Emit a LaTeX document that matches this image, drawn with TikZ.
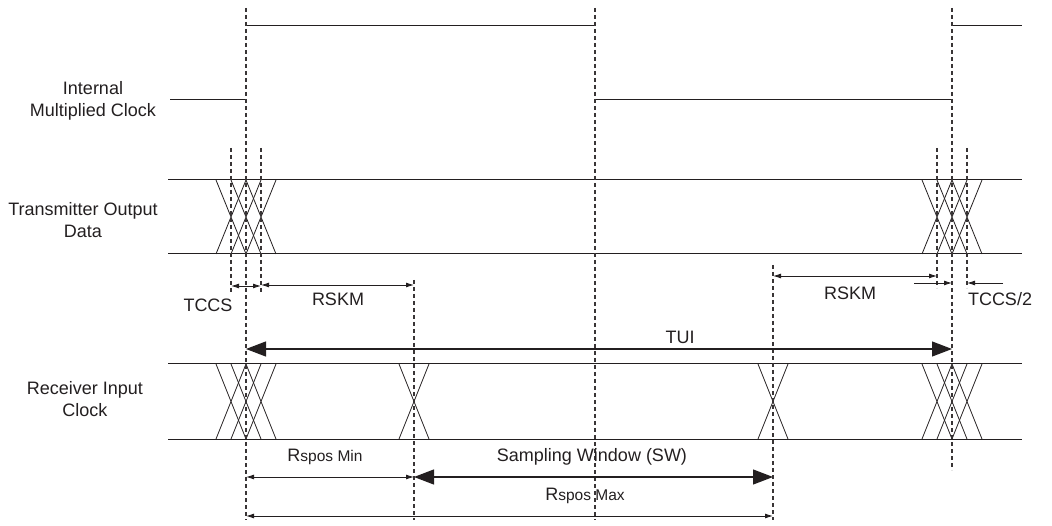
\documentclass[tikz,border=0pt]{standalone}
\usepackage{fontspec}
\setmainfont{Liberation Sans}
\usetikzlibrary{arrows.meta}
\definecolor{ink}{HTML}{231F20}
\tikzset{
  sig/.style={draw=ink, line width=1pt},
  guide/.style={draw=ink!90, line width=1.1pt, dash pattern=on 4pt off 3pt},
  dim/.style={draw=ink, line width=0.9pt, {Latex[length=8pt,width=5pt]}-{Latex[length=8pt,width=5pt]}},
  dimr/.style={draw=ink, line width=0.9pt, -{Latex[length=8pt,width=5pt]}},
  bigdim/.style={draw=ink, line width=1.2pt, {Triangle[length=20pt,width=15pt]}-{Triangle[length=20pt,width=15pt]}},
  lbl/.style={text=ink, font=\fontsize{18}{22}\selectfont, inner sep=0pt, align=center},
}
\newcommand{\crossx}[3]{% center x, top y, bottom y
  \draw[sig, line width=0.8pt] (#1-15,#2) -- (#1+15,#3) (#1+15,#2) -- (#1-15,#3);}
\newcommand{\subtxt}[1]{{\fontsize{15.5}{15.5}\selectfont #1}}
\begin{document}
\begin{tikzpicture}[x=1pt,y=-1pt]
\useasboundingbox (0,0) rectangle (1052,526);
% Internal clock
\draw[sig] (170,100) -- (246,100);
\draw[sig] (246,26) -- (595,26);
\draw[sig] (595,100) -- (952,100);
\draw[sig] (952,26) -- (1022,26);
% Transmitter data
\draw[sig] (168,180) -- (1022,180);
\draw[sig] (168,254) -- (1022,254);
\foreach \c in {231,246,261,937,952,967} {\crossx{\c}{180}{254}}
% Receiver clock
\draw[sig] (168,364) -- (1022,364);
\draw[sig] (168,439) -- (1022,439);
\foreach \c in {231,246,261,414,773,937,952,967} {\crossx{\c}{364}{439}}
% guide lines
\draw[guide] (246,8) -- (246,520);
\draw[guide] (595,8) -- (595,520);
\draw[guide] (952,8) -- (952,470);
\draw[guide] (231,148) -- (231,292);
\draw[guide] (261,148) -- (261,292);
\draw[guide] (937,148) -- (937,288);
\draw[guide] (967,148) -- (967,288);
\draw[guide] (414,280) -- (414,520);
\draw[guide] (773,265) -- (773,520);
% dimension coordinates
\coordinate (tccsL) at (231,286); \coordinate (tccsR) at (261,286);
\coordinate (rskmL1) at (261,285); \coordinate (rskmR1) at (414,285);
\coordinate (rskmL2) at (773,276); \coordinate (rskmR2) at (937,276);
\coordinate (t2a) at (914,283); \coordinate (t2b) at (952,283);
\coordinate (t2c) at (1003,283); \coordinate (t2d) at (967,283);
\coordinate (tuiL) at (246,349); \coordinate (tuiR) at (952,349);
\coordinate (minL) at (246,477); \coordinate (minR) at (414,477);
\coordinate (swR) at (773,477);
\coordinate (maxL) at (246,516); \coordinate (maxR) at (773,516);
% dimension arrows
\draw[dim] (tccsL) -- (tccsR);
\draw[dim] (rskmL1) -- (rskmR1);
\draw[dim] (rskmL2) -- (rskmR2);
\draw[dimr] (t2a) -- (t2b);
\draw[dimr] (t2c) -- (t2d);
\draw[bigdim] (tuiL) -- (tuiR);
\draw[dim] (minL) -- (minR);
\draw[bigdim] (minR) -- (swR);
\draw[dim] (maxL) -- (maxR);
% labels
\node[lbl] (l1) at (93,101) {Internal\\Multiplied Clock};
\node[lbl] (l2) at (83,220) {Transmitter Output\\Data};
\node[lbl] (l3) at (85,399) {Receiver Input\\Clock};
\node[lbl] (t1) at (208,305) {TCCS};
\node[lbl] (t2) at (338,299) {RSKM};
\node[lbl] (t3) at (850,293) {RSKM};
\node[lbl] (t4) at (1000,299) {TCCS/2};
\node[lbl] (t5) at (680,337) {TUI};
\node[lbl] (t6) at (325,457) {R\subtxt{spos Min}};
\node[lbl] (t7) at (592,457) {Sampling Window (SW)};
\node[lbl] (t8) at (585,496) {R\subtxt{spos Max}};
\end{tikzpicture}
\end{document}
